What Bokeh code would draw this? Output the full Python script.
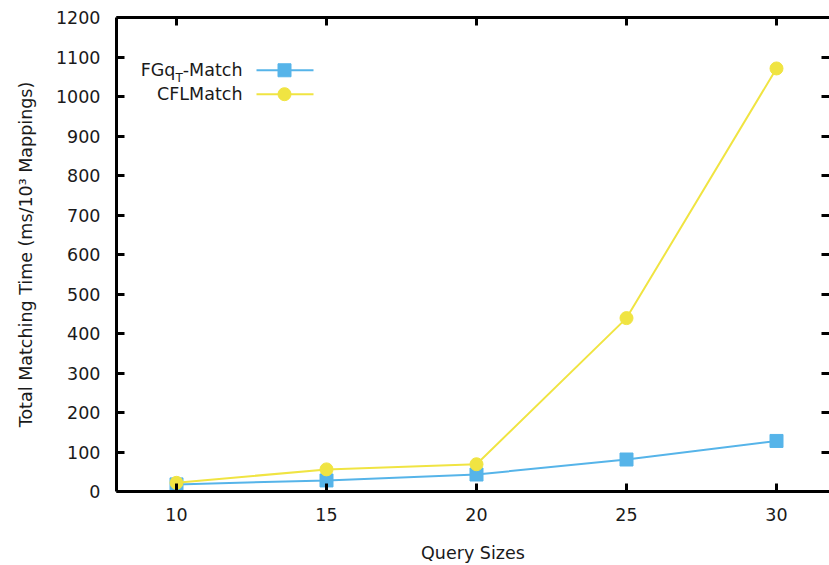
from bokeh.plotting import figure
from bokeh.models import Range1d, LinearAxis, Label, FixedTicker
from bokeh.embed import file_html
from bokeh.resources import INLINE

# ---- data ----
query_sizes = [10, 15, 20, 25, 30]
fgqt_match = [18, 28, 43, 81, 128]
cfl_match = [22, 56, 69, 439, 1071]
x_ticks = [10, 15, 20, 25, 30]
y_ticks = [0, 100, 200, 300, 400, 500, 600, 700, 800, 900, 1000, 1100, 1200]

BLUE = "#56b4e9"
YELLOW = "#f0e442"
FONT = "DejaVu Sans"
FS = "17.5px"
TXT = "#1a1a1a"

# frame geometry (picture px): left 116, top 17, bottom 493; 30 px per x unit
X0, PXU = 8.0, 30.0
FRAME_L, FRAME_T, FRAME_B = 116, 17, 493
W, H = 829, 565
x_end = X0 + (W - FRAME_L) / PXU

p = figure(width=W, height=H, output_backend="svg", toolbar_location=None,
           x_range=Range1d(X0, x_end), y_range=Range1d(0, 1200),
           min_border_left=FRAME_L, min_border_right=0,
           min_border_top=FRAME_T, min_border_bottom=H - FRAME_B,
           x_axis_label="Query Sizes",
           y_axis_label="Total Matching Time (ms/10\u00b3 Mappings)")
p.outline_line_color = None
p.grid.visible = False
p.background_fill_color = "white"
p.border_fill_color = "white"


def style(ax, labels=True):
    ax.axis_line_width = 3
    ax.axis_line_color = "black"
    ax.major_tick_in = 8
    ax.major_tick_out = 0
    ax.major_tick_line_width = 3
    ax.minor_tick_in = 0
    ax.minor_tick_out = 0
    ax.major_label_text_font = FONT
    ax.major_label_text_font_size = FS if labels else "1px"
    ax.major_label_text_color = TXT if labels else None
    ax.axis_label_text_font = FONT
    ax.axis_label_text_font_size = FS
    ax.axis_label_text_font_style = "normal"
    ax.axis_label_text_color = TXT


p.xaxis.ticker = FixedTicker(ticks=x_ticks)
p.yaxis.ticker = FixedTicker(ticks=y_ticks)
style(p.xaxis[0])
style(p.yaxis[0])
p.xaxis.major_label_standoff = 16
p.xaxis.axis_label_standoff = 19
p.yaxis.major_label_standoff = 16
p.yaxis.axis_label_standoff = 17

top = LinearAxis(ticker=FixedTicker(ticks=x_ticks))
style(top, labels=False)
top.major_label_standoff = 0
p.add_layout(top, "above")

right = LinearAxis(ticker=FixedTicker(ticks=y_ticks))
style(right, labels=False)
right.major_label_standoff = 0
right.axis_line_color = None
p.add_layout(right, "right")

# ---- series ----
p.line(query_sizes, fgqt_match, line_color=BLUE, line_width=2)
p.scatter(query_sizes, fgqt_match, marker="square", size=13, fill_color=BLUE, line_color=BLUE)
p.line(query_sizes, cfl_match, line_color=YELLOW, line_width=2)
p.scatter(query_sizes, cfl_match, marker="circle", size=13, fill_color=YELLOW, line_color=YELLOW)


# ---- legend (label left, sample right), positioned in picture px ----
def X(px):
    return X0 + (px - FRAME_L) / PXU


def Y(py):
    return (FRAME_B - py) * 1200.0 / (FRAME_B - FRAME_T)


rows = [(70, BLUE, "square"), (94, YELLOW, "circle")]
for py, col, mk in rows:
    p.line([X(256), X(313)], [Y(py), Y(py)], line_color=col, line_width=2)
    p.scatter([X(284)], [Y(py)], marker=mk, size=13, fill_color=col, line_color=col)

fsz = 17.5
w_match = 3.413 * fsz
w_T = 0.611 * 12
right_edge = 242
p.add_layout(Label(x=X(right_edge), y=Y(70), text="-Match", text_align="right", text_baseline="middle",
                   text_font=FONT, text_font_size=FS, text_color=TXT))
p.add_layout(Label(x=X(right_edge - w_match), y=Y(78), text="T", text_align="right", text_baseline="middle",
                   text_font=FONT, text_font_size="12px", text_color=TXT))
p.add_layout(Label(x=X(right_edge - w_match - w_T), y=Y(70), text="FGq", text_align="right", text_baseline="middle",
                   text_font=FONT, text_font_size=FS, text_color=TXT))
p.add_layout(Label(x=X(right_edge), y=Y(94), text="CFLMatch", text_align="right", text_baseline="middle",
                   text_font=FONT, text_font_size=FS, text_color=TXT))

open("out.html", "w").write(file_html(p, INLINE))
